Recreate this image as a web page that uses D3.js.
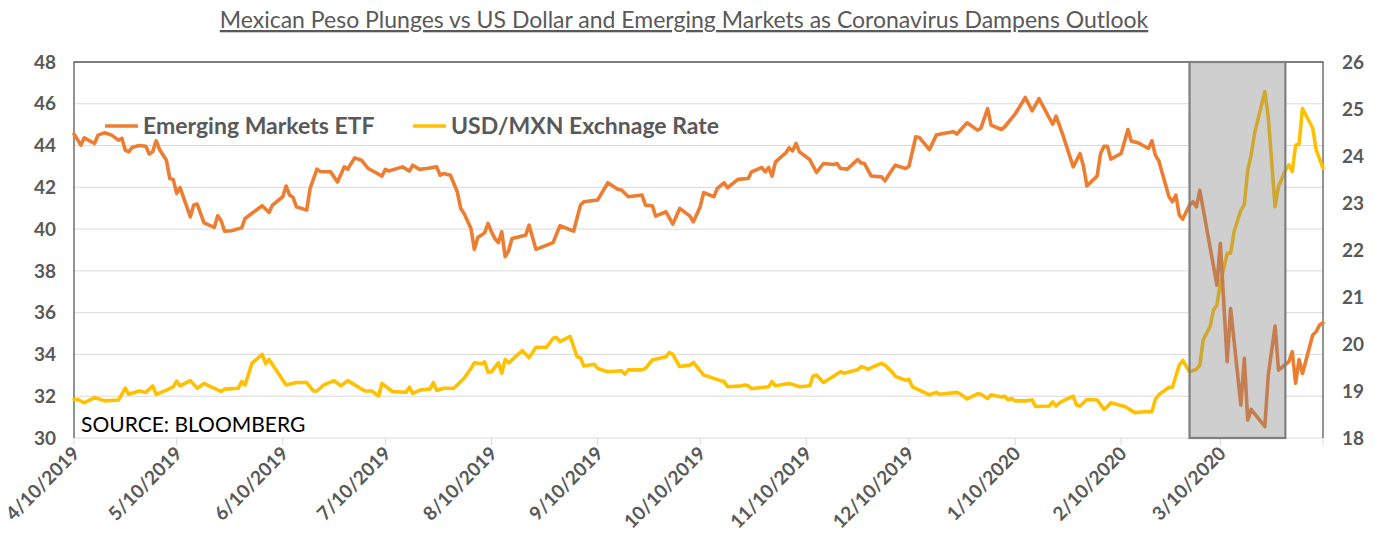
<!DOCTYPE html>
<html>
<head>
<meta charset="utf-8">
<script src="https://cdn.jsdelivr.net/npm/d3@7"></script>
<style>
  body { margin: 0; background: #fff; }
  text { font-family: Lato, "Noto Sans", sans-serif; }
</style>
</head>
<body>
<svg width="1375" height="541"></svg>
<script>
const title = "Mexican Peso Plunges vs US Dollar and Emerging Markets as Coronavirus Dampens Outlook";
const sourceNote = "SOURCE: BLOOMBERG";
const seriesNames = ["Emerging Markets ETF", "USD/MXN Exchnage Rate"];

const leftTicks = [30, 32, 34, 36, 38, 40, 42, 44, 46, 48];
const rightTicks = [18, 19, 20, 21, 22, 23, 24, 25, 26];
const dateTicks = ["4/10/2019", "5/10/2019", "6/10/2019", "7/10/2019", "8/10/2019", "9/10/2019",
  "10/10/2019", "11/10/2019", "12/10/2019", "1/10/2020", "2/10/2020", "3/10/2020"];
const dateRange = ["2019-04-10", "2020-04-09"];
const shadedRange = ["2020-03-01", "2020-03-29"];

// Emerging Markets ETF (left axis)
const etf = [["2019-04-10",44.55],["2019-04-12",44.02],["2019-04-13",44.37],["2019-04-16",44.10],["2019-04-17",44.50],["2019-04-19",44.61],["2019-04-21",44.50],["2019-04-23",44.26],["2019-04-24",44.34],["2019-04-25",43.78],["2019-04-26",43.70],["2019-04-27",43.91],["2019-04-29",44.00],["2019-05-01",43.97],["2019-05-02",43.59],["2019-05-03",43.70],["2019-05-04",44.23],["2019-05-05",43.81],["2019-05-07",43.30],["2019-05-08",42.42],["2019-05-09",42.38],["2019-05-10",41.71],["2019-05-11",41.99],["2019-05-14",40.59],["2019-05-15",41.15],["2019-05-16",41.20],["2019-05-18",40.30],["2019-05-21",40.08],["2019-05-22",40.64],["2019-05-23",40.40],["2019-05-24",39.90],["2019-05-26",39.92],["2019-05-29",40.06],["2019-05-30",40.51],["2019-06-04",41.12],["2019-06-06",40.80],["2019-06-07",41.15],["2019-06-10",41.55],["2019-06-11",42.06],["2019-06-12",41.63],["2019-06-13",41.52],["2019-06-14",41.07],["2019-06-17",40.91],["2019-06-18",41.95],["2019-06-20",42.87],["2019-06-21",42.76],["2019-06-24",42.74],["2019-06-26",42.26],["2019-06-28",42.98],["2019-06-29",42.87],["2019-07-01",43.41],["2019-07-03",43.30],["2019-07-05",42.90],["2019-07-09",42.54],["2019-07-10",42.86],["2019-07-11",42.78],["2019-07-15",42.98],["2019-07-17",42.78],["2019-07-18",43.06],["2019-07-20",42.86],["2019-07-22",42.90],["2019-07-25",42.98],["2019-07-26",42.58],["2019-07-27",42.66],["2019-07-29",42.58],["2019-07-31",41.79],["2019-08-01",40.99],["2019-08-02",40.75],["2019-08-04",40.03],["2019-08-05",39.03],["2019-08-06",39.60],["2019-08-08",39.82],["2019-08-09",40.27],["2019-08-10",39.87],["2019-08-11",39.55],["2019-08-12",39.35],["2019-08-13",39.87],["2019-08-14",38.68],["2019-08-15",38.96],["2019-08-16",39.55],["2019-08-20",39.71],["2019-08-21",40.19],["2019-08-23",39.03],["2019-08-28",39.35],["2019-08-30",40.16],["2019-09-03",39.90],["2019-09-05",41.15],["2019-09-06",41.31],["2019-09-10",41.39],["2019-09-13",42.22],["2019-09-16",41.90],["2019-09-17",41.87],["2019-09-19",41.55],["2019-09-23",41.63],["2019-09-24",41.15],["2019-09-26",41.12],["2019-09-27",40.62],["2019-09-30",40.83],["2019-10-02",40.24],["2019-10-04",40.99],["2019-10-07",40.62],["2019-10-08",40.35],["2019-10-10",41.07],["2019-10-11",41.75],["2019-10-14",41.55],["2019-10-15",41.95],["2019-10-17",42.22],["2019-10-18",41.98],["2019-10-21",42.38],["2019-10-24",42.42],["2019-10-25",42.74],["2019-10-28",42.95],["2019-10-29",42.74],["2019-10-30",42.95],["2019-10-31",42.54],["2019-11-01",43.22],["2019-11-04",43.65],["2019-11-05",43.89],["2019-11-06",43.75],["2019-11-07",44.10],["2019-11-08",43.70],["2019-11-11",43.33],["2019-11-13",42.71],["2019-11-15",43.14],["2019-11-18",43.09],["2019-11-19",43.14],["2019-11-20",42.90],["2019-11-22",42.87],["2019-11-25",43.33],["2019-11-26",43.17],["2019-11-27",43.14],["2019-11-29",42.54],["2019-12-02",42.50],["2019-12-03",42.31],["2019-12-04",42.58],["2019-12-06",43.06],["2019-12-09",42.90],["2019-12-10",43.01],["2019-12-12",44.42],["2019-12-13",44.39],["2019-12-16",43.81],["2019-12-18",44.50],["2019-12-20",44.58],["2019-12-23",44.66],["2019-12-24",44.55],["2019-12-27",45.09],["2019-12-30",44.74],["2019-12-31",44.82],["2020-01-02",45.77],["2020-01-03",44.98],["2020-01-06",44.77],["2020-01-07",44.90],["2020-01-10",45.50],["2020-01-13",46.30],["2020-01-15",45.66],["2020-01-17",46.25],["2020-01-21",45.02],["2020-01-22",45.41],["2020-01-24",44.50],["2020-01-27",42.98],["2020-01-29",43.62],["2020-01-30",43.01],["2020-01-31",42.07],["2020-02-03",42.54],["2020-02-04",43.62],["2020-02-05",43.97],["2020-02-06",43.97],["2020-02-07",43.35],["2020-02-10",43.62],["2020-02-12",44.77],["2020-02-13",44.21],["2020-02-15",44.13],["2020-02-18",43.86],["2020-02-19",44.23],["2020-02-20",43.54],["2020-02-21",43.27],["2020-02-24",41.55],["2020-02-25",41.31],["2020-02-26",41.63],["2020-02-27",40.67],["2020-02-28",40.48],["2020-03-01",41.15],["2020-03-02",41.31],["2020-03-03",41.07],["2020-03-04",41.86],["2020-03-09",37.32],["2020-03-10",39.32],["2020-03-12",33.65],["2020-03-13",36.20],["2020-03-16",31.58],["2020-03-17",33.81],["2020-03-18",30.86],["2020-03-19",31.37],["2020-03-23",30.54],["2020-03-24",33.01],["2020-03-26",35.36],["2020-03-27",33.25],["2020-03-30",33.65],["2020-03-31",34.13],["2020-04-01",32.62],["2020-04-02",33.76],["2020-04-03",33.09],["2020-04-06",34.93],["2020-04-07",35.09],["2020-04-08",35.41],["2020-04-09",35.52]];

// USD/MXN (right axis)
const usdmxn = [["2019-04-10",18.82],["2019-04-11",18.82],["2019-04-13",18.75],["2019-04-16",18.86],["2019-04-19",18.79],["2019-04-23",18.81],["2019-04-25",19.06],["2019-04-26",18.93],["2019-04-29",19.00],["2019-05-01",18.97],["2019-05-03",19.11],["2019-05-04",18.93],["2019-05-07",19.02],["2019-05-09",19.09],["2019-05-10",19.21],["2019-05-11",19.11],["2019-05-14",19.22],["2019-05-16",19.06],["2019-05-18",19.16],["2019-05-20",19.09],["2019-05-23",18.99],["2019-05-24",19.04],["2019-05-28",19.06],["2019-05-29",19.20],["2019-05-30",19.13],["2019-06-01",19.59],["2019-06-04",19.78],["2019-06-05",19.58],["2019-06-06",19.67],["2019-06-11",19.13],["2019-06-14",19.18],["2019-06-17",19.18],["2019-06-19",19.00],["2019-06-20",19.00],["2019-06-22",19.13],["2019-06-25",19.22],["2019-06-27",19.11],["2019-06-29",19.22],["2019-07-04",19.00],["2019-07-06",19.00],["2019-07-08",18.89],["2019-07-09",19.16],["2019-07-12",18.99],["2019-07-16",18.97],["2019-07-17",19.08],["2019-07-18",18.95],["2019-07-20",19.02],["2019-07-23",19.04],["2019-07-24",19.18],["2019-07-25",19.01],["2019-07-27",19.06],["2019-07-30",19.06],["2019-08-02",19.27],["2019-08-04",19.48],["2019-08-05",19.60],["2019-08-07",19.58],["2019-08-08",19.62],["2019-08-09",19.40],["2019-08-10",19.41],["2019-08-12",19.60],["2019-08-13",19.38],["2019-08-14",19.67],["2019-08-15",19.60],["2019-08-19",19.86],["2019-08-21",19.71],["2019-08-23",19.93],["2019-08-26",19.93],["2019-08-28",20.12],["2019-08-29",20.14],["2019-08-30",20.05],["2019-09-02",20.16],["2019-09-04",19.73],["2019-09-05",19.71],["2019-09-06",19.53],["2019-09-09",19.57],["2019-09-10",19.48],["2019-09-13",19.41],["2019-09-17",19.43],["2019-09-18",19.36],["2019-09-19",19.45],["2019-09-23",19.45],["2019-09-24",19.48],["2019-09-26",19.66],["2019-09-30",19.73],["2019-10-01",19.82],["2019-10-02",19.78],["2019-10-04",19.52],["2019-10-07",19.55],["2019-10-08",19.61],["2019-10-11",19.34],["2019-10-16",19.22],["2019-10-17",19.20],["2019-10-18",19.09],["2019-10-22",19.11],["2019-10-23",19.13],["2019-10-24",19.11],["2019-10-25",19.05],["2019-10-30",19.09],["2019-10-31",19.20],["2019-11-01",19.11],["2019-11-05",19.16],["2019-11-06",19.14],["2019-11-08",19.09],["2019-11-11",19.11],["2019-11-12",19.32],["2019-11-13",19.34],["2019-11-15",19.18],["2019-11-17",19.27],["2019-11-20",19.41],["2019-11-21",19.38],["2019-11-25",19.45],["2019-11-26",19.52],["2019-11-27",19.50],["2019-11-28",19.46],["2019-11-30",19.53],["2019-12-02",19.59],["2019-12-03",19.55],["2019-12-05",19.41],["2019-12-06",19.31],["2019-12-09",19.23],["2019-12-10",19.25],["2019-12-11",19.09],["2019-12-13",19.02],["2019-12-16",18.92],["2019-12-18",18.97],["2019-12-19",18.93],["2019-12-24",18.97],["2019-12-25",18.94],["2019-12-27",18.83],["2019-12-30",18.94],["2019-12-31",18.93],["2020-01-02",18.84],["2020-01-03",18.92],["2020-01-06",18.87],["2020-01-07",18.89],["2020-01-08",18.81],["2020-01-09",18.84],["2020-01-10",18.79],["2020-01-13",18.79],["2020-01-15",18.81],["2020-01-16",18.67],["2020-01-20",18.68],["2020-01-21",18.77],["2020-01-22",18.68],["2020-01-23",18.75],["2020-01-24",18.79],["2020-01-27",18.89],["2020-01-28",18.70],["2020-01-29",18.68],["2020-01-31",18.82],["2020-02-03",18.81],["2020-02-05",18.61],["2020-02-06",18.67],["2020-02-07",18.75],["2020-02-11",18.67],["2020-02-12",18.63],["2020-02-14",18.54],["2020-02-17",18.56],["2020-02-19",18.56],["2020-02-20",18.82],["2020-02-21",18.92],["2020-02-24",19.08],["2020-02-25",19.08],["2020-02-27",19.55],["2020-02-28",19.65],["2020-03-01",19.41],["2020-03-03",19.46],["2020-03-04",19.55],["2020-03-05",20.09],["2020-03-07",20.37],["2020-03-08",20.72],["2020-03-09",20.83],["2020-03-10",21.29],["2020-03-12",21.93],["2020-03-13",21.93],["2020-03-14",22.39],["2020-03-16",22.85],["2020-03-17",22.96],["2020-03-18",23.70],["2020-03-19",24.02],["2020-03-20",24.48],["2020-03-23",25.37],["2020-03-24",24.84],["2020-03-26",22.92],["2020-03-27",23.35],["2020-03-29",23.69],["2020-03-30",23.81],["2020-03-31",23.67],["2020-04-01",24.23],["2020-04-02",24.25],["2020-04-03",25.01],["2020-04-06",24.59],["2020-04-07",24.13],["2020-04-09",23.74]];

const colors = ["#ED7D31", "#FFC000"];
const gray = "#595959";

const svg = d3.select("svg");
const plot = { left: 74, right: 1323, top: 62, bottom: 438 };

const parseIso = d3.timeParse("%Y-%m-%d");
const parseTick = d3.timeParse("%m/%d/%Y");

const x = d3.scaleTime()
  .domain(dateRange.map(parseIso))
  .range([plot.left, plot.right]);
const yLeft = d3.scaleLinear().domain([30, 48]).range([plot.bottom, plot.top]);
const yRight = d3.scaleLinear().domain([18, 26]).range([plot.bottom, plot.top]);

// title
svg.append("text")
  .attr("x", 684).attr("y", 28)
  .attr("text-anchor", "middle")
  .attr("font-size", 23)
  .attr("fill", gray)
  .style("text-decoration", "underline")
  .text(title);

// gridlines
svg.append("g").selectAll("line")
  .data(leftTicks)
  .join("line")
  .attr("x1", plot.left).attr("x2", plot.right)
  .attr("y1", d => yLeft(d)).attr("y2", d => yLeft(d))
  .attr("stroke", "#d9d9d9").attr("stroke-width", 1);

// blank the grid under the shaded window
const shadeX0 = x(parseIso(shadedRange[0]));
const shadeX1 = x(parseIso(shadedRange[1]));
svg.append("rect")
  .attr("x", shadeX0).attr("y", plot.top)
  .attr("width", shadeX1 - shadeX0).attr("height", plot.bottom - plot.top)
  .attr("fill", "#fff");

// x ticks
const tickDates = dateTicks.map(parseTick);
svg.append("g").selectAll("line")
  .data(tickDates.concat([parseIso(dateRange[1])]))
  .join("line")
  .attr("x1", d => x(d)).attr("x2", d => x(d))
  .attr("y1", plot.bottom).attr("y2", plot.bottom + 7)
  .attr("stroke", "#d9d9d9");

// plot frame
svg.append("path")
  .attr("d", `M${plot.left},${plot.bottom}V${plot.top}H${plot.right}V${plot.bottom}`)
  .attr("fill", "none").attr("stroke", gray).attr("stroke-width", 1.3);

// lines
const lineLeft = d3.line().x(d => x(parseIso(d[0]))).y(d => yLeft(d[1]));
const lineRight = d3.line().x(d => x(parseIso(d[0]))).y(d => yRight(d[1]));

svg.append("path").datum(usdmxn)
  .attr("d", lineRight)
  .attr("fill", "none").attr("stroke", colors[1])
  .attr("stroke-width", 3.6).attr("stroke-linejoin", "round").attr("stroke-linecap", "round");

svg.append("path").datum(etf)
  .attr("d", lineLeft)
  .attr("fill", "none").attr("stroke", colors[0])
  .attr("stroke-width", 3.6).attr("stroke-linejoin", "round").attr("stroke-linecap", "round");

// shaded window
svg.append("rect")
  .attr("x", shadeX0).attr("y", plot.top)
  .attr("width", shadeX1 - shadeX0).attr("height", plot.bottom - plot.top)
  .attr("fill", "rgba(128,128,128,0.38)")
  .attr("stroke", "#7f7f7f").attr("stroke-width", 2.2);

// left axis labels
svg.append("g").selectAll("text")
  .data(leftTicks)
  .join("text")
  .attr("x", 56).attr("y", d => yLeft(d))
  .attr("dy", "0.35em")
  .attr("text-anchor", "end")
  .attr("font-size", 19).attr("font-weight", "bold")
  .attr("fill", gray)
  .text(d => d);

// right axis labels
svg.append("g").selectAll("text")
  .data(rightTicks)
  .join("text")
  .attr("x", 1342).attr("y", d => yRight(d))
  .attr("dy", "0.35em")
  .attr("text-anchor", "start")
  .attr("font-size", 19).attr("font-weight", "bold")
  .attr("fill", gray)
  .text(d => d);

// date labels
svg.append("g").selectAll("text")
  .data(dateTicks)
  .join("text")
  .attr("transform", d => `translate(${x(parseTick(d)) + 2},${plot.bottom + 12}) rotate(-45)`)
  .attr("text-anchor", "end")
  .attr("dy", "0.35em")
  .attr("font-size", 19).attr("font-weight", "bold")
  .attr("fill", gray)
  .text(d => d);

// legend
const legendX = [105, 413];
const legend = svg.append("g").selectAll("g")
  .data(seriesNames)
  .join("g")
  .attr("transform", (d, i) => `translate(${legendX[i]},126)`);
legend.append("line")
  .attr("x1", 0).attr("x2", 33)
  .attr("stroke", (d, i) => colors[i]).attr("stroke-width", 3.6);
legend.append("text")
  .attr("x", 38).attr("y", 8)
  .attr("font-size", 23).attr("font-weight", "bold")
  .attr("fill", gray)
  .text(d => d);

// source note
svg.append("text")
  .attr("x", 81).attr("y", 432)
  .attr("font-size", 21)
  .attr("fill", "#000")
  .text(sourceNote);
</script>
</body>
</html>
